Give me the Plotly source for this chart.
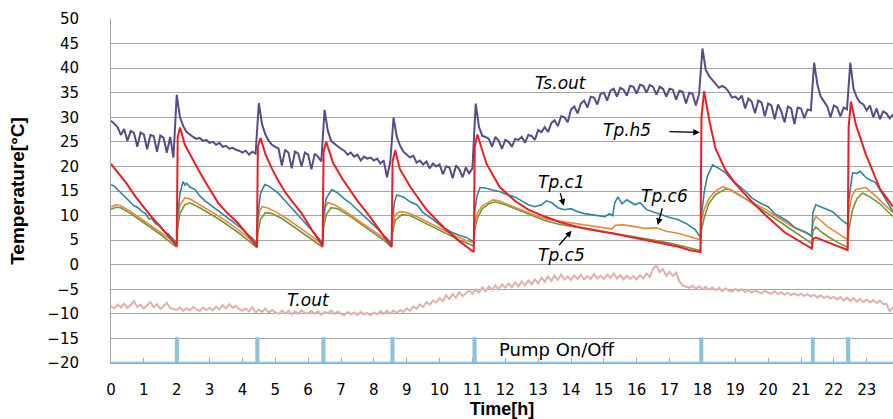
import plotly.graph_objects as go

# ---------------- data ----------------
# sampling grid (hours) for the noisy series
t_grid = [round(i * 0.1, 1) for i in range(239)]

ts_out = [
    29.3, 28.6, 28.0, 26.4, 27.6, 25.2, 27.2, 26.8, 24.0, 26.9,
    26.5, 23.5, 26.4, 26.2, 23.0, 26.3, 25.8, 22.8, 26.0, 21.8,
    34.6, 30.0, 28.2, 27.0, 26.4, 26.0, 25.6, 25.8, 25.2, 25.4,
    24.8, 25.0, 24.4, 24.8, 24.0, 24.2, 23.6, 23.8, 23.4, 23.2,
    22.8, 23.2, 22.4, 23.0, 22.6, 32.9, 28.5, 26.5, 25.2, 24.4,
    24.0, 23.6, 20.2, 23.4, 22.8, 19.6, 23.0, 22.6, 20.0, 22.8,
    22.4, 19.4, 22.6, 22.0, 21.0, 31.5, 27.2, 25.2, 24.6, 24.0,
    23.6, 23.2, 22.4, 22.8, 22.0, 22.4, 21.2, 22.0, 21.6, 21.8,
    21.2, 21.6, 20.6, 21.2, 17.8, 21.0, 29.9, 26.0, 24.2, 23.0,
    22.4, 21.8, 22.2, 20.8, 21.2, 20.4, 21.0, 19.6, 20.6, 20.0,
    20.4, 18.4, 20.0, 19.8, 17.6, 20.2, 19.4, 17.8, 19.8, 18.6,
    19.6, 32.8, 28.0, 26.2, 26.0, 25.6, 24.0, 26.0, 25.2, 23.6,
    25.4, 25.0, 24.0, 25.6, 25.4, 26.0, 24.8, 26.4, 26.2, 25.4,
    27.4, 27.0, 28.0, 27.0, 28.8, 29.4, 28.2, 30.2, 30.0, 29.0,
    31.6, 32.2, 30.8, 32.8, 33.4, 32.0, 34.2, 34.0, 32.6, 34.8,
    35.0, 33.4, 35.4, 35.8, 34.2, 36.0, 35.6, 34.4, 36.4, 36.2,
    34.8, 36.6, 36.4, 35.0, 36.6, 36.2, 34.6, 36.2, 35.8, 34.2,
    35.8, 35.6, 33.6, 35.4, 35.2, 32.8, 35.0, 34.8, 32.4, 34.8,
    44.0, 39.7, 38.4, 37.6, 37.0, 36.0, 36.4, 36.0, 35.2, 34.0,
    34.2, 33.6, 34.4, 31.8, 33.8, 33.2, 30.8, 33.4, 33.0, 30.2,
    32.8, 32.4, 29.6, 32.6, 31.2, 29.0, 32.2, 31.8, 28.6, 32.0,
    31.8, 29.8, 31.6, 31.4, 41.1, 36.6, 34.2, 33.2, 32.2, 30.0,
    32.4, 32.0, 30.2, 32.0, 31.6, 41.1, 35.8, 34.0, 33.0, 32.6,
    31.4, 32.4, 30.0, 31.8, 29.6, 31.2, 30.8, 29.8, 30.6,
]

t_out = [
    -8.4, -8.9, -8.1, -8.7, -7.9, -8.8, -8.2, -7.4, -8.6, -8.1,
    -8.9, -8.2, -7.6, -8.7, -8.0, -9.0, -8.3, -7.8, -8.8, -9.0,
    -9.2, -8.7, -9.4, -8.8, -9.3, -8.6, -9.1, -9.4, -8.7, -9.2,
    -8.8, -9.3, -8.5, -9.1, -8.2, -8.9, -8.0, -8.8, -8.4, -9.0,
    -9.4, -8.9, -9.5, -8.7, -9.7, -9.1, -9.6, -8.9, -9.8, -9.2,
    -9.7, -10.0, -9.3, -9.9, -9.4, -10.1, -9.5, -10.0, -9.3, -9.8,
    -9.9, -9.4, -10.0, -9.5, -10.2, -9.6, -9.9, -9.3, -10.0, -9.5,
    -10.0, -10.3, -9.6, -10.1, -9.7, -10.2, -9.6, -10.1, -9.8, -10.3,
    -9.7, -10.1, -9.5, -10.0, -9.4, -9.9, -9.3, -9.8, -9.2, -9.6,
    -8.9, -9.4, -8.5, -9.0, -8.1, -8.6, -7.6, -8.1, -7.3, -7.7,
    -6.8, -7.4, -6.2, -7.0, -6.0, -6.7, -5.6, -6.4, -5.8, -5.2,
    -5.9, -5.0, -5.7, -4.6, -5.4, -4.4, -5.1, -4.2, -5.0, -4.0,
    -4.7, -3.8, -4.6, -3.6, -4.4, -3.4, -4.2, -3.2, -4.0, -3.0,
    -3.8, -2.6, -3.5, -2.4, -3.3, -2.2, -3.1, -2.0, -3.0, -2.4,
    -3.1, -2.2, -2.9, -2.0, -3.0, -2.3, -2.9, -1.9, -2.8, -2.2,
    -2.9, -2.0, -2.7, -1.8, -2.8, -2.1, -3.0, -2.2, -2.9, -2.3,
    -3.0, -2.1, -2.8, -1.8, -2.5, -0.8, -0.1, -1.5, -0.9, -2.3,
    -1.4, -2.3, -1.6, -3.4, -4.2, -4.4, -4.7, -4.3, -4.9, -4.4,
    -5.0, -4.5, -5.1, -4.6, -5.2, -4.7, -5.4, -4.8, -5.3, -5.5,
    -4.9, -5.4, -5.0, -5.6, -5.1, -5.7, -5.2, -5.6, -5.8, -5.3,
    -5.7, -5.9, -5.4, -6.0, -5.6, -6.1, -5.7, -6.2, -5.8, -6.3,
    -5.9, -6.4, -6.0, -6.5, -6.1, -6.7, -6.2, -6.8, -6.4, -6.9,
    -6.5, -7.1, -6.6, -7.3, -6.7, -7.4, -6.8, -7.5, -7.0, -7.6,
    -7.1, -7.7, -7.2, -7.8, -7.3, -8.0, -8.0, -9.5, -8.6,
]

# Tp.h5 (red)
h5_t = [0, 0.25, 0.5, 0.75, 1.0, 1.25, 1.5, 1.75, 2.0,
        2.03, 2.1, 2.25, 2.45, 2.65, 2.86, 3.05, 3.26, 3.5, 3.86, 4.15, 4.44,
        4.47, 4.55, 4.7, 4.9, 5.1, 5.3, 5.5, 5.8, 6.1, 6.44,
        6.47, 6.55, 6.76, 7.06, 7.48, 7.88, 8.2, 8.54,
        8.57, 8.65, 8.79, 9.1, 9.6, 10.2, 10.6, 11.04,
        11.07, 11.15, 11.43, 11.83, 12.29, 12.7, 13.2, 13.7, 14.2, 14.7, 15.24,
        15.7, 16.25, 16.75, 17.25, 17.6, 17.94,
        17.97, 18.05, 18.22, 18.4, 18.7, 19.0, 19.44, 19.93, 20.5, 21.0, 21.33,
        21.36, 21.45, 21.8, 22.1, 22.42,
        22.45, 22.52, 22.67, 22.97, 23.4, 23.8]
h5_v = [20.5, 18.4, 16.3, 13.8, 11.6, 9.6, 7.8, 5.8, 3.8,
        26.0, 27.9, 24.4, 21.8, 19.4, 17.0, 14.8, 12.6, 10.8, 8.5, 6.2, 3.6,
        24.0, 25.8, 22.5, 19.5, 17.0, 14.8, 13.0, 10.5, 7.2, 3.8,
        23.0, 25.0, 20.7, 17.3, 13.2, 9.8, 6.8, 3.6,
        21.0, 23.3, 19.5, 15.9, 11.2, 7.1, 4.8, 2.6,
        24.0, 26.5, 20.5, 15.8, 13.0, 11.2, 9.8, 8.6, 7.7, 7.0, 6.4,
        5.8, 5.1, 4.4, 3.7, 3.0, 2.6,
        30.0, 35.3, 29.0, 23.6, 19.3, 16.5, 13.3, 10.0, 6.6, 4.6, 3.3,
        5.2, 5.5, 4.6, 3.8, 3.0,
        28.0, 33.2, 28.5, 22.5, 15.5, 11.8]

# Tp.c1 (teal)
c1_t = [0, 0.1, 0.2, 0.3, 0.43, 0.55, 0.7, 0.82, 0.95, 1.05, 1.15, 1.25, 1.35,
        1.45, 1.55, 1.65, 1.75, 1.85, 1.95, 2.0,
        2.03, 2.1, 2.19, 2.25, 2.3, 2.4, 2.56, 2.7, 2.86, 3.05, 3.26, 3.5, 3.7,
        3.86, 4.0, 4.15, 4.3, 4.44,
        4.47, 4.55, 4.68, 4.8, 4.95, 5.08, 5.3, 5.5, 5.7, 5.9, 6.1, 6.3, 6.44,
        6.47, 6.55, 6.72, 6.9, 7.1, 7.27, 7.48, 7.7, 7.9, 8.1, 8.3, 8.54,
        8.57, 8.63, 8.7, 8.9, 9.1, 9.31, 9.5, 9.8, 10.1, 10.4, 10.6, 10.8,
        10.92, 11.04,
        11.07, 11.15, 11.23, 11.4, 11.6, 11.83, 12.0, 12.29, 12.5, 12.7, 12.9,
        13.1, 13.25, 13.42, 13.6, 13.8, 14.0, 14.2, 14.4, 14.6, 14.8, 15.03,
        15.18, 15.27, 15.33, 15.43, 15.55, 15.7, 15.94, 16.1, 16.3, 16.55, 16.8,
        17.0, 17.25, 17.5, 17.77, 17.94,
        17.97, 18.05, 18.15, 18.31, 18.5, 18.7, 18.9, 19.13, 19.3, 19.5, 19.74,
        20.0, 20.2, 20.35, 20.6, 20.8, 20.96, 21.15, 21.33,
        21.36, 21.45, 21.6, 21.8, 21.96, 22.1, 22.25, 22.42,
        22.45, 22.57, 22.7, 22.8, 23.0, 23.27, 23.5, 23.8]
c1_v = [16.3, 16.0, 15.3, 14.6, 13.8, 13.0, 12.0, 11.6, 10.8, 10.4, 9.4, 9.3, 8.4,
        8.0, 7.2, 6.6, 6.2, 5.4, 4.6, 4.4,
        10.5, 14.5, 16.9, 16.2, 16.6, 15.8, 15.3, 14.0, 13.0, 12.0, 11.0, 9.8, 8.8,
        8.0, 7.2, 6.2, 5.4, 4.3,
        10.0, 14.5, 16.3, 16.0, 15.2, 14.6, 13.0, 11.5, 10.0, 8.6, 7.0, 5.6, 4.3,
        10.0, 13.5, 15.3, 14.6, 13.4, 12.6, 11.3, 10.0, 8.6, 7.4, 6.0, 4.4,
        9.5, 12.8, 14.2, 13.8, 12.8, 12.2, 10.6, 9.2, 7.6, 6.5, 6.0, 5.6,
        5.1, 4.8,
        11.0, 14.2, 15.7, 15.6, 15.2, 14.9, 14.4, 13.8, 13.0, 12.2, 11.8,
        12.2, 13.0, 12.6, 11.6, 11.2, 11.4, 10.8, 10.4, 10.2, 10.0, 9.8,
        10.4, 10.0, 12.6, 13.8, 12.4, 13.2, 12.2, 12.6, 11.2, 10.6, 10.0,
        9.6, 9.2, 8.4, 7.2, 5.6,
        10.0, 14.6, 18.0, 20.3, 19.6, 18.7, 17.2, 15.9, 15.0, 13.6, 12.6,
        11.8, 10.4, 9.8, 8.8, 7.6, 7.1, 6.6, 5.7,
        10.5, 12.2, 11.8, 11.2, 10.8, 10.0, 9.0, 8.2,
        13.0, 18.7, 18.6, 19.0, 17.6, 16.7, 14.2, 10.8]

# Tp.c6 (orange)
c6_t = [0, 0.15, 0.3, 0.6, 0.9, 1.2, 1.5, 1.8, 2.0,
        2.03, 2.1, 2.25, 2.4, 2.7, 3.0, 3.3, 3.6, 3.9, 4.2, 4.44,
        4.47, 4.52, 4.6, 4.75, 5.0, 5.3, 5.6, 5.9, 6.2, 6.44,
        6.47, 6.52, 6.6, 6.8, 7.1, 7.4, 7.7, 8.0, 8.3, 8.54,
        8.57, 8.65, 8.8, 9.0, 9.3, 9.6, 9.9, 10.2, 10.5, 10.8, 11.04,
        11.07, 11.15, 11.3, 11.5, 11.62, 11.8, 12.1, 12.4, 12.7, 13.0, 13.3,
        13.72, 14.2, 14.72, 15.0, 15.24, 15.35, 15.58, 15.9, 16.25, 16.6, 16.9,
        17.25, 17.6, 17.94,
        17.97, 18.05, 18.2, 18.4, 18.62, 18.8, 19.0, 19.23, 19.6, 19.93, 20.3,
        20.75, 21.0, 21.33,
        21.36, 21.45, 21.6, 21.8, 21.96, 22.2, 22.42,
        22.45, 22.55, 22.67, 22.97, 23.2, 23.4, 23.6, 23.8]
c6_v = [11.8, 12.2, 12.0, 10.8, 9.4, 8.0, 6.7, 5.3, 4.3,
        9.5, 12.2, 13.6, 13.4, 12.2, 11.0, 9.8, 8.4, 7.0, 5.4, 4.0,
        8.5, 10.8, 11.8, 11.6, 10.8, 9.6, 8.2, 6.8, 5.4, 4.2,
        9.0, 11.6, 12.6, 12.2, 11.0, 9.6, 8.2, 6.8, 5.4, 4.0,
        8.2, 10.2, 10.8, 10.6, 9.8, 8.8, 7.8, 6.8, 5.8, 5.0, 4.5,
        8.5, 10.5, 12.0, 12.8, 13.2, 13.0, 12.2, 11.4, 10.6, 9.8, 9.2,
        8.8, 8.2, 7.7, 7.5, 7.3, 8.0, 8.1, 7.8, 7.4, 7.5, 6.8,
        6.4, 5.8, 5.1,
        9.0, 11.2, 13.5, 15.0, 15.9, 15.4, 14.6, 13.8, 12.4, 11.2, 9.6,
        7.7, 6.9, 6.0,
        8.5, 9.8, 9.0, 7.8, 7.1, 6.0, 5.1,
        10.5, 14.0, 15.3, 15.7, 14.4, 13.2, 12.0, 10.6]

# Tp.c5 (green)
c5_t = [0, 0.15, 0.3, 0.6, 0.9, 1.2, 1.5, 1.8, 2.0,
        2.03, 2.1, 2.25, 2.4, 2.7, 3.0, 3.3, 3.6, 3.9, 4.2, 4.44,
        4.47, 4.55, 4.7, 4.9, 5.2, 5.5, 5.8, 6.1, 6.44,
        6.47, 6.55, 6.7, 6.9, 7.2, 7.5, 7.8, 8.1, 8.3, 8.54,
        8.57, 8.65, 8.85, 9.1, 9.4, 9.7, 10.0, 10.3, 10.6, 10.8, 11.04,
        11.07, 11.15, 11.3, 11.5, 11.7, 12.0, 12.3, 12.6, 12.9, 13.2, 13.6,
        14.0, 14.5, 15.0, 15.3, 15.5, 16.0, 16.5, 17.0, 17.5, 17.94,
        17.97, 18.05, 18.2, 18.4, 18.7, 18.85, 19.1, 19.5, 19.9, 20.3, 20.7,
        21.0, 21.33,
        21.36, 21.45, 21.6, 21.8, 22.1, 22.42,
        22.45, 22.57, 22.7, 22.87, 23.1, 23.4, 23.8]
c5_v = [11.3, 11.7, 11.6, 10.4, 9.0, 7.6, 6.2, 4.6, 3.6,
        7.5, 10.5, 12.2, 12.6, 11.6, 10.4, 9.2, 7.8, 6.4, 4.8, 3.5,
        6.5, 9.2, 10.6, 10.4, 9.4, 8.0, 6.6, 5.2, 3.6,
        7.5, 10.2, 11.6, 11.4, 10.2, 8.8, 7.4, 6.0, 5.0, 3.6,
        6.5, 9.0, 10.2, 10.0, 9.0, 8.0, 7.0, 6.0, 5.0, 4.5, 3.8,
        7.0, 9.5, 11.4, 12.4, 12.8, 12.2, 11.4, 10.6, 9.8, 9.0, 8.3,
        7.8, 7.2, 6.6, 6.4, 6.2, 5.6, 5.0, 4.4, 3.6, 2.9,
        7.0, 9.5, 12.5, 14.3, 15.4, 15.3, 14.3, 12.6, 10.8, 9.0, 7.2,
        5.8, 4.3,
        6.8, 7.7, 6.8, 5.8, 4.6, 3.5,
        7.0, 11.2, 13.4, 14.6, 13.8, 12.4, 9.8]

# Pump On/Off
pump_on_start = [1.98, 4.43, 6.44, 8.54, 11.04, 17.94, 21.34, 22.41]
pump_on_end = [2.03, 4.48, 6.49, 8.59, 11.09, 17.99, 21.38, 22.46]
PUMP_OFF = -20
PUMP_ON = -15
t_end = 23.8

pump_t = [0]
pump_v = [PUMP_OFF]
for a, b in zip(pump_on_start, pump_on_end):
    pump_t += [a, a, b, b]
    pump_v += [PUMP_OFF, PUMP_ON, PUMP_ON, PUMP_OFF]
pump_t.append(t_end)
pump_v.append(PUMP_OFF)

# ---------------- figure ----------------
fig = go.Figure()


def add_line(x, y, color, width, name):
    fig.add_trace(go.Scatter(x=x, y=y, mode="lines", name=name,
                             line=dict(color=color, width=width),
                             hoverinfo="skip"))


add_line(t_grid, t_out, "#e0b0ae", 2, "T.out")
add_line(pump_t, pump_v, "#8cc3da", 2.5, "Pump On/Off")
add_line(t_grid, ts_out, "#5a4a86", 2, "Ts.out")
add_line(c5_t, c5_v, "#77933c", 1.6, "Tp.c5")
add_line(c6_t, c6_v, "#e8893a", 1.6, "Tp.c6")
add_line(c1_t, c1_v, "#31849b", 1.6, "Tp.c1")
add_line(h5_t, h5_v, "#ee1c24", 2, "Tp.h5")

lab_font = dict(family="DejaVu Sans", size=17, color="black", style="italic")

texts = [
    ("Ts.out", 13.69, 37.0),
    ("Tp.h5", 15.70, 27.5),
    ("Tp.c1", 13.72, 16.9),
    ("Tp.c6", 16.85, 14.0),
    ("Tp.c5", 13.72, 2.0),
    ("T.out", 6.02, -7.1),
]
for txt, x, y in texts:
    fig.add_annotation(x=x, y=y, text=txt, showarrow=False, font=lab_font)

fig.add_annotation(x=13.57, y=-17.3, text="Pump On/Off", showarrow=False,
                   font=dict(family="DejaVu Sans", size=18, color="black"))

arrows = [
    (16.95, 27.1, 17.92, 26.9),
    (13.66, 14.9, 13.78, 12.0),
    (16.79, 11.8, 16.64, 8.1),
    (13.60, 3.7, 14.02, 6.9),
]
for ax_, ay_, x, y in arrows:
    fig.add_annotation(x=x, y=y, ax=ax_, ay=ay_, axref="x", ayref="y",
                       xref="x", yref="y", text="", showarrow=True,
                       arrowhead=2, arrowsize=1, arrowwidth=1.3,
                       arrowcolor="black")

fig.update_layout(
    width=893, height=419,
    margin=dict(l=111, r=0, t=19, b=56, autoexpand=False),
    paper_bgcolor="white", plot_bgcolor="white",
    showlegend=False,
    font=dict(family="DejaVu Sans", color="black"),
)
fig.update_xaxes(
    range=[0, t_end], tickmode="linear", tick0=0, dtick=1,
    showgrid=False, zeroline=False, showline=True, linecolor="#a6a6a6",
    ticks="inside", ticklen=5, tickcolor="#a6a6a6", layer="below traces",
    tickfont=dict(family="DejaVu Sans", size=15, color="black"),
    ticklabelstandoff=13,
    title=dict(text="Time[h]", standoff=3,
               font=dict(family="Liberation Sans", size=18, weight="bold",
                         color="black")),
)
fig.update_yaxes(
    range=[-20, 50], tickmode="linear", tick0=-20, dtick=5,
    showgrid=True, gridcolor="#a6a6a6", gridwidth=1, zeroline=False,
    showline=True, linecolor="#a6a6a6", ticks="",
    tickfont=dict(family="DejaVu Sans", size=15, color="black"),
    ticklabelstandoff=28,
    title=dict(text="Temperature[°C]", standoff=17,
               font=dict(family="Liberation Sans", size=19, weight="bold",
                         color="black")),
)

fig.write_html(
    "out.html",
    config={"displayModeBar": False},
    post_script="document.body.style.margin='0';"
                "document.body.style.overflow='hidden';",
)
